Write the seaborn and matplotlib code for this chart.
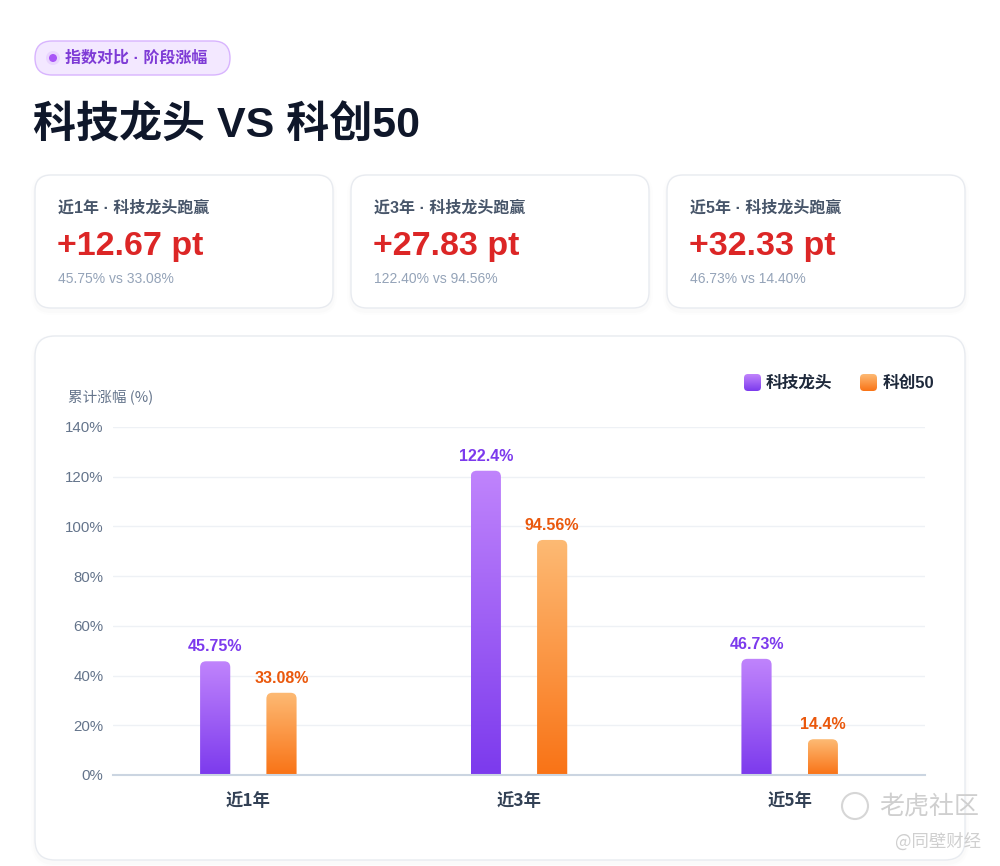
import numpy as np
import pandas as pd
import seaborn as sns
import matplotlib.pyplot as plt
from matplotlib.patches import FancyBboxPatch, Circle
from matplotlib.colors import LinearSegmentedColormap

# data
periods = ['近1年', '近3年', '近5年']
series_names = ['科技龙头', '科创50']
tech_leader = [45.75, 122.40, 46.73]
star50 = [33.08, 94.56, 14.40]
spreads = [12.67, 27.83, 32.33]
y_ticks = [0, 20, 40, 60, 80, 100, 120, 140]

sns.set_style('white')
CJK = ['Noto Sans CJK SC', 'DejaVu Sans']
MIX = ['Liberation Sans', 'Noto Sans CJK SC', 'DejaVu Sans']
plt.rcParams['font.family'] = MIX

# bottom -> top colours of the bar gradients
purple_cmap = LinearSegmentedColormap.from_list('purple', ['#7c3aed', '#c084fc'])
orange_cmap = LinearSegmentedColormap.from_list('orange', ['#f97316', '#fdba74'])
grad = np.linspace(0, 1, 256).reshape(-1, 1)

fig = plt.figure(figsize=(10, 8.66), dpi=100)
fig.patch.set_facecolor('white')

# background layer in pixel coordinates
bg = fig.add_axes([0, 0, 1, 1], zorder=0)
bg.set_xlim(0, 1000)
bg.set_ylim(866, 0)
bg.axis('off')


def card(x, y, w, h, r=16):
    for k, a in [(8, 0.008), (4, 0.012)]:
        bg.add_patch(FancyBboxPatch((x - k / 2, y - k / 2 + 3), w + k, h + k,
                                    boxstyle=f'round,pad=0,rounding_size={r + k / 2}',
                                    fc='#0f172a', ec='none', alpha=a))
    bg.add_patch(FancyBboxPatch((x, y), w, h, boxstyle=f'round,pad=0,rounding_size={r}',
                                fc='white', ec='#e8ebf0', lw=1))


# badge
bg.add_patch(FancyBboxPatch((35, 41), 195, 34, boxstyle='round,pad=0,rounding_size=17',
                            fc='#f3e8ff', ec='#d8b4fe', lw=1))
bg.add_patch(Circle((53, 58), 7, fc='#d8b4fe', ec='none', alpha=0.35))
bg.add_patch(Circle((53, 58), 4, fc='#a855f7', ec='none'))
bg.text(65, 58, '指数对比 · 阶段涨幅', fontsize=11.5, fontweight='bold', color='#7e3bd6',
        va='center', family=MIX)

# title
bg.text(33, 126, f'{series_names[0]} VS {series_names[1]}', fontsize=31, fontweight='bold',
        color='#0f172a', va='center', family=MIX)

# summary cards
for i, x in enumerate([35, 351, 667]):
    card(x, 175, 298, 133)
    bg.text(x + 23, 208, f'{periods[i]} · {series_names[0]}跑赢', fontsize=11.5,
            fontweight='bold', color='#475569', va='center', family=MIX)
    bg.text(x + 22, 246, f'+{spreads[i]:.2f} pt', fontsize=24.5, fontweight='bold',
            color='#dc2626', va='center', family=MIX)
    bg.text(x + 23, 279, f'{tech_leader[i]:.2f}% vs {star50[i]:.2f}%', fontsize=10,
            color='#94a3b8', va='center', family=MIX)

# chart card
card(35, 336, 930, 524, r=20)
bg.text(68, 397, '累计涨幅 (%)', fontsize=10.5, color='#64748b', va='center', family=CJK)

# legend
for (lx, tx), cmap, name in zip([(744, 766), (860, 883)], [purple_cmap, orange_cmap], series_names):
    sq = FancyBboxPatch((lx, 374), 17, 17, boxstyle='round,pad=0,rounding_size=4',
                        fc='none', ec='none')
    bg.add_patch(sq)
    im = bg.imshow(grad, extent=(lx, lx + 17, 391, 374), origin='lower', aspect='auto',
                   cmap=cmap, zorder=2)
    im.set_clip_path(sq)
    bg.text(tx, 383, name, fontsize=12, fontweight='bold', color='#1e293b', va='center',
            family=MIX)
bg.set_xlim(0, 1000)
bg.set_ylim(866, 0)

# watermark
bg.add_patch(Circle((855, 806), 13, fill=False, ec='#d6d6d6', lw=1.5))
bg.text(879, 806, '老虎社区', fontsize=18, color='#cfcfcf', va='center', family=CJK)
bg.text(981, 842, '@同壁财经', fontsize=12.5, color='#cfcfcf', va='center', ha='right',
        family=CJK)

# bar chart
df = pd.DataFrame({
    'period': periods * 2,
    'value': tech_leader + star50,
    'series': [series_names[0]] * len(periods) + [series_names[1]] * len(periods),
})

ax = fig.add_axes([0.113, (866 - 775) / 866, 0.812, 348 / 866], zorder=1)
ax.patch.set_alpha(0)
sns.barplot(data=df, x='period', y='value', hue='series', order=periods,
            hue_order=series_names, palette=['#a855f7', '#fb923c'], saturation=1,
            width=0.49, gap=0.545, errorbar=None, legend=False, ax=ax)

ax.set_xlim(-0.5, 2.5)
ax.set_ylim(0, 140)
ax.set_yticks(y_ticks)
ax.set_yticklabels([f'{t}%' for t in y_ticks])
ax.yaxis.grid(True, color='#eef1f5', lw=1)
ax.set_axisbelow(True)
ax.set_xlabel('')
ax.set_ylabel('')
ax.tick_params(axis='y', length=0, pad=7, labelsize=10.8, labelcolor='#64748b')
ax.tick_params(axis='x', length=0, pad=12, labelsize=12.5, labelcolor='#334155')
for lab in ax.get_xticklabels():
    lab.set_fontweight('bold')
    lab.set_family(CJK)
for side in ['left', 'top', 'right']:
    ax.spines[side].set_visible(False)
ax.spines['bottom'].set_color('#cbd5e1')
ax.spines['bottom'].set_linewidth(1.5)
ax.spines['bottom'].set_zorder(5)

# gradient bars with rounded tops
px_x = ax.transData.transform((1, 0))[0] - ax.transData.transform((0, 0))[0]
px_y = ax.transData.transform((0, 1))[1] - ax.transData.transform((0, 0))[1]
r_px = 6
values = tech_leader + star50
bars = list(ax.patches)
for i, (bar, v) in enumerate(zip(bars, values)):
    x, w, h = bar.get_x(), bar.get_width(), bar.get_height()
    bar.remove()
    first = i < len(periods)
    shape = FancyBboxPatch((x, -r_px / px_y), w, h + r_px / px_y,
                           boxstyle=f'round,pad=0,rounding_size={r_px / px_x}',
                           mutation_aspect=px_x / px_y, fc='none', ec='none')
    ax.add_patch(shape)
    im = ax.imshow(grad, extent=(x, x + w, 0, h), origin='lower', aspect='auto',
                   cmap=purple_cmap if first else orange_cmap, zorder=2)
    im.set_clip_path(shape)
    ax.annotate(f'{v:g}%', (x + w / 2, h), xytext=(0, 5), textcoords='offset points',
                ha='center', va='bottom', fontsize=11.5, fontweight='bold',
                color='#7c3aed' if first else '#ea580c', family=MIX)

ax.set_xlim(-0.5, 2.5)
ax.set_ylim(0, 140)

fig.savefig('out.png', dpi=100)
